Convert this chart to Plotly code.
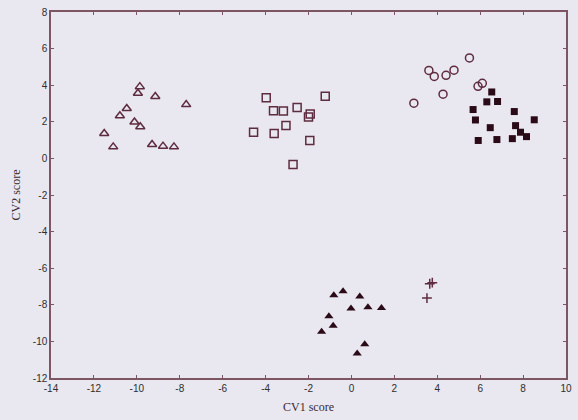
import plotly.graph_objects as go

# Canonical variate scores for each group (CV1, CV2)
open_tri_x = [-9.86, -9.95, -9.14, -7.70, -10.47, -10.79, -10.11, -9.84, -11.52, -11.10, -9.29, -8.78, -8.27]
open_tri_y = [3.92, 3.56, 3.38, 2.94, 2.73, 2.33, 1.99, 1.73, 1.36, 0.63, 0.76, 0.67, 0.63]

open_sq_x = [-3.97, -3.63, -3.17, -2.53, -1.22, -1.92, -2.00, -3.05, -4.56, -3.60, -1.94, -2.72]
open_sq_y = [3.31, 2.60, 2.59, 2.78, 3.40, 2.42, 2.26, 1.80, 1.43, 1.36, 0.98, -0.33]

open_circ_x = [5.50, 3.61, 3.86, 4.41, 4.78, 6.10, 5.90, 4.27, 2.91]
open_circ_y = [5.49, 4.81, 4.48, 4.54, 4.82, 4.10, 3.94, 3.51, 3.02]

fill_sq_x = [6.54, 6.31, 6.81, 5.67, 7.59, 5.78, 8.52, 6.47, 7.65, 7.88, 8.16, 7.50, 6.78, 5.91]
fill_sq_y = [3.63, 3.09, 3.11, 2.67, 2.56, 2.10, 2.11, 1.68, 1.79, 1.43, 1.19, 1.08, 1.03, 0.98]

fill_tri_x = [-0.39, -0.82, 0.39, -0.02, 0.77, 1.40, -1.05, -0.85, -1.39, 0.62, 0.27]
fill_tri_y = [-7.26, -7.48, -7.55, -8.20, -8.13, -8.17, -8.63, -9.14, -9.47, -10.15, -10.66]

cross_x = [3.65, 3.77, 3.52]
cross_y = [-6.85, -6.79, -7.63]

x_ticks = [-14, -12, -10, -8, -6, -4, -2, 0, 2, 4, 6, 8, 10]
y_ticks = [-12, -10, -8, -6, -4, -2, 0, 2, 4, 6, 8]

open_col = "#5e2c40"
fill_col = "#2b0a17"
axis_col = "#7d5563"
bg = "#e9e7ef"

fig = go.Figure()

def add(xs, ys, symbol, size, color, lw=1.5):
    fig.add_trace(go.Scatter(
        x=xs, y=ys, mode="markers", showlegend=False,
        marker=dict(symbol=symbol, size=size, color=color,
                    line=dict(color=color, width=lw)),
    ))

add(open_tri_x, open_tri_y, "triangle-up-open", 8, open_col)
add(open_sq_x, open_sq_y, "square-open", 8, open_col)
add(open_circ_x, open_circ_y, "circle-open", 8, open_col)
add(fill_sq_x, fill_sq_y, "square", 7, fill_col, 0)
add(fill_tri_x, fill_tri_y, "triangle-up", 8, fill_col, 0)
add(cross_x, cross_y, "cross-thin", 7, open_col, 1.5)

axis_common = dict(
    showgrid=False, zeroline=False, showline=True, linecolor=axis_col,
    linewidth=1.5, mirror="ticks", ticks="inside", ticklen=3,
    tickcolor=axis_col, tickwidth=1,
    tickfont=dict(family="Liberation Sans, Arial, sans-serif", size=10, color="#2e2e2e"),
)

fig.update_xaxes(
    range=[-14, 10], tickvals=x_ticks, ticktext=[str(v) for v in x_ticks],
    title=dict(text="CV1 score", standoff=10,
               font=dict(family="Liberation Serif, Times New Roman, serif", size=12, color="#3a2a30")),
    **axis_common,
)
fig.update_yaxes(
    range=[-12, 8], tickvals=y_ticks, ticktext=[str(v) for v in y_ticks],
    title=dict(text="CV2 score", standoff=10,
               font=dict(family="Liberation Serif, Times New Roman, serif", size=12, color="#3a2a30")),
    **axis_common,
)

fig.update_layout(
    width=578, height=420,
    margin=dict(l=51, r=6, t=10, b=42),
    plot_bgcolor=bg, paper_bgcolor=bg,
)

fig.write_html("out.html")
